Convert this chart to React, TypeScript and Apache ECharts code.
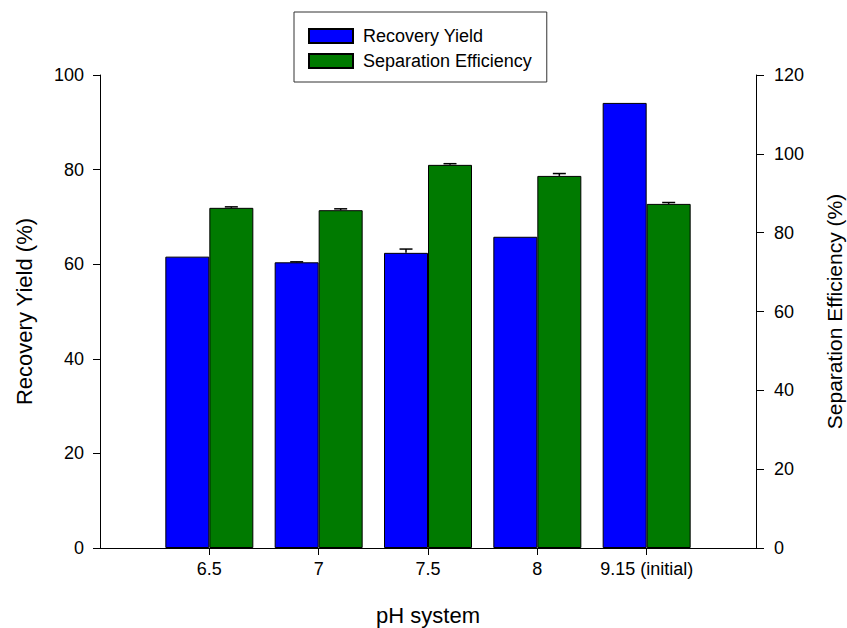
import React, { useEffect, useRef } from "react";
import * as echarts from "echarts";

const categories = ["6.5", "7", "7.5", "8", "9.15 (initial)"];
const recoveryYield = [61.6, 60.4, 62.4, 65.8, 94.1];
const recoveryYieldErr = [0, 0.1, 0.8, 0, 0];
const separationEfficiency = [86.3, 85.7, 97.2, 94.4, 87.3];
const separationEfficiencyErr = [0.25, 0.35, 0.3, 0.6, 0.35];

const FONT = "'Liberation Sans', Arial, sans-serif";
const BAR_WIDTH = 44;

export default function App() {
  const ref = useRef<HTMLDivElement>(null);

  useEffect(() => {
    if (!ref.current) return;
    const chart = echarts.init(ref.current, null, { renderer: "svg" });

    const axisData = ["", ...categories, ""];
    const pad = (arr: number[]) => [null, ...arr, null];

    const errData = (vals: number[], errs: number[]) =>
      vals.map((v, i) => [i + 1, v, errs[i]]);

    const makeErrRender = (offset: number) => (params: any, api: any) => {
      const idx = api.value(0);
      const v = api.value(1);
      const e = api.value(2);
      if (!e) return null;
      const base = api.coord([idx, v]);
      const top = api.coord([idx, v + e]);
      const x = base[0] + offset;
      const half = 6.5;
      const style = { stroke: "#000", lineWidth: 1.5 };
      return {
        type: "group",
        children: [
          { type: "line", shape: { x1: x, y1: base[1], x2: x, y2: top[1] }, style },
          { type: "line", shape: { x1: x - half, y1: top[1], x2: x + half, y2: top[1] }, style },
        ],
      };
    };

    const axisLabelStyle = { fontSize: 18, color: "#000", fontFamily: FONT };
    const nameStyle = { fontSize: 22, color: "#000", fontFamily: FONT };
    const lineStyle = { color: "#000", width: 1 };

    chart.setOption({
      animation: false,
      backgroundColor: "#fff",
      grid: {
        left: 100,
        right: 91,
        top: 75,
        bottom: 80,
        containLabel: false,
        outerBoundsMode: "none",
      },
      legend: {
        data: ["Recovery Yield", "Separation Efficiency"],
        orient: "vertical",
        left: 294,
        top: 12,
        padding: [15, 15, 12, 14],
        itemWidth: 44,
        itemHeight: 14,
        itemGap: 7,
        borderColor: "#333",
        borderWidth: 1,
        icon: "rect",
        textStyle: { fontSize: 18, color: "#000", fontFamily: FONT, padding: [0, 0, 0, 5] },
      },
      xAxis: {
        type: "category",
        data: axisData,
        boundaryGap: false,
        axisLine: { show: true, lineStyle },
        axisTick: {
          show: true,
          length: 7,
          interval: (i: number) => i >= 1 && i <= categories.length,
          lineStyle,
        },
        axisLabel: { interval: 0, margin: 12, ...axisLabelStyle },
        splitLine: { show: false },
        name: "pH system",
        nameLocation: "middle",
        nameGap: 56,
        nameTextStyle: nameStyle,
      },
      yAxis: [
        {
          type: "value",
          position: "left",
          min: 0,
          max: 100,
          interval: 20,
          axisLine: { show: true, lineStyle },
          axisTick: { show: true, length: 7, lineStyle },
          axisLabel: { margin: 16, ...axisLabelStyle },
          splitLine: { show: false },
          name: "Recovery Yield (%)",
          nameLocation: "middle",
          nameGap: 65,
          nameTextStyle: nameStyle,
        },
        {
          type: "value",
          position: "right",
          min: 0,
          max: 120,
          interval: 20,
          axisLine: { show: true, lineStyle },
          axisTick: { show: true, length: 8, lineStyle },
          axisLabel: { margin: 18, ...axisLabelStyle },
          splitLine: { show: false },
          name: "Separation Efficiency (%)",
          nameLocation: "middle",
          nameGap: 68,
          nameTextStyle: { ...nameStyle, fontSize: 21 },
        },
      ],
      series: [
        {
          name: "Recovery Yield",
          type: "bar",
          yAxisIndex: 0,
          data: pad(recoveryYield),
          barWidth: BAR_WIDTH,
          barGap: "0%",
          itemStyle: { color: "#0000ff", borderColor: "#000", borderWidth: 1 },
        },
        {
          name: "Separation Efficiency",
          type: "bar",
          yAxisIndex: 1,
          data: pad(separationEfficiency),
          barWidth: BAR_WIDTH,
          barGap: "0%",
          itemStyle: { color: "#007a00", borderColor: "#000", borderWidth: 1 },
        },
        {
          name: "ry-err",
          type: "custom",
          yAxisIndex: 0,
          encode: { x: 0, y: 1 },
          z: 5,
          renderItem: makeErrRender(-BAR_WIDTH / 2),
          data: errData(recoveryYield, recoveryYieldErr),
        },
        {
          name: "se-err",
          type: "custom",
          yAxisIndex: 1,
          encode: { x: 0, y: 1 },
          z: 5,
          renderItem: makeErrRender(BAR_WIDTH / 2),
          data: errData(separationEfficiency, separationEfficiencyErr),
        },
      ],
    });

    return () => chart.dispose();
  }, []);

  return (
    <div
      ref={ref}
      style={{ position: "fixed", left: 0, top: 0, width: 847, height: 628, background: "#fff" }}
    />
  );
}
